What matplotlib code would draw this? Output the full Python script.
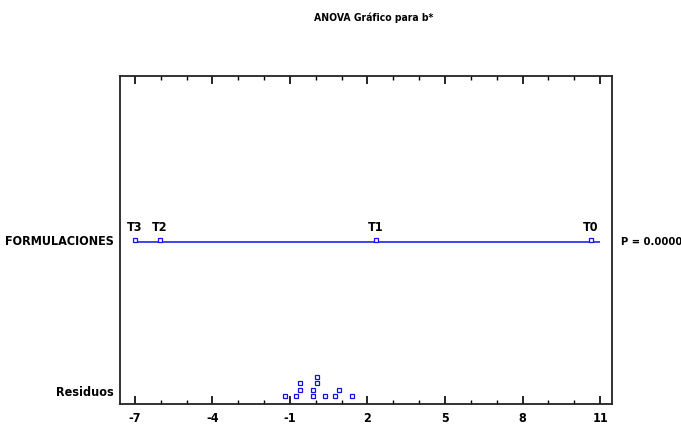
import numpy as np
import matplotlib
matplotlib.use('Agg')
import matplotlib.pyplot as plt
from matplotlib.ticker import MultipleLocator

plt.rcParams['font.family'] = ['DejaVu Sans']
plt.rcParams['font.stretch'] = 'condensed'
plt.rcParams['font.weight'] = 'bold'

# grupos (medias escaladas)
grupos = ['T3', 'T2', 'T1', 'T0']
medias = [-7.0, -6.03, 2.33, 10.63]

# residuos (valor, nivel de apilado)
residuos = [-1.19, -0.77, -0.6, -0.6, -0.09, -0.09, 0.06, 0.06, 0.34, 0.73, 0.9, 1.4]
apilado = [0, 0, 1, 2, 0, 1, 2, 3, 0, 0, 1, 0]

ticks = [-7, -4, -1, 2, 5, 8, 11]
p_valor = "P = 0.0000"
azul = '#1010e8'

fig = plt.figure(figsize=(6.81, 4.30), dpi=100)
ax = fig.add_axes([0.176, 0.0605, 0.723, 0.7628])

y_form = 0.495
y_res = 0.025
paso = 0.019

ax.hlines(y_form, ticks[0], ticks[-1], color=azul, lw=1.1)
ax.plot(medias, [y_form + 0.006] * len(medias), 's', ms=3.2, mfc='white',
        mec=azul, mew=0.9, ls='none')
for g, m in zip(grupos, medias):
    ax.text(m, y_form + 0.022, g, ha='center', va='bottom', fontsize=9, fontweight='bold')

ax.plot(residuos, [y_res + paso * k for k in apilado], 's', ms=3.2, mfc='white',
        mec=azul, mew=0.9, ls='none')

ax.set_xlim(-7.58, 11.47)
ax.set_ylim(0, 1)
ax.set_xticks(ticks)
ax.set_xticklabels([str(t) for t in ticks], fontsize=9, fontweight='bold')
ax.xaxis.set_minor_locator(MultipleLocator(1))
ax.tick_params(axis='x', which='major', direction='in', length=6, width=1.2,
               top=True, bottom=True, pad=6)
ax.tick_params(axis='x', which='minor', direction='in', length=3, width=1,
               top=True, bottom=True)
ax.set_yticks([])
for s in ax.spines.values():
    s.set_linewidth(1.3)
    s.set_color('#222222')

ax.text(-0.012, y_form, 'FORMULACIONES', transform=ax.transAxes, ha='right',
        va='center', fontsize=9, fontweight='bold')
ax.text(-0.012, y_res + 0.01, 'Residuos', transform=ax.transAxes, ha='right',
        va='center', fontsize=9, fontweight='bold')
ax.text(1.018, y_form, p_valor, transform=ax.transAxes, ha='left',
        va='center', fontsize=8, fontweight='bold')

fig.text(0.548, 0.958, 'ANOVA Gráfico para b*', ha='center', va='center',
         fontsize=7.5, fontweight='bold')

fig.savefig('out.png', dpi=100)
